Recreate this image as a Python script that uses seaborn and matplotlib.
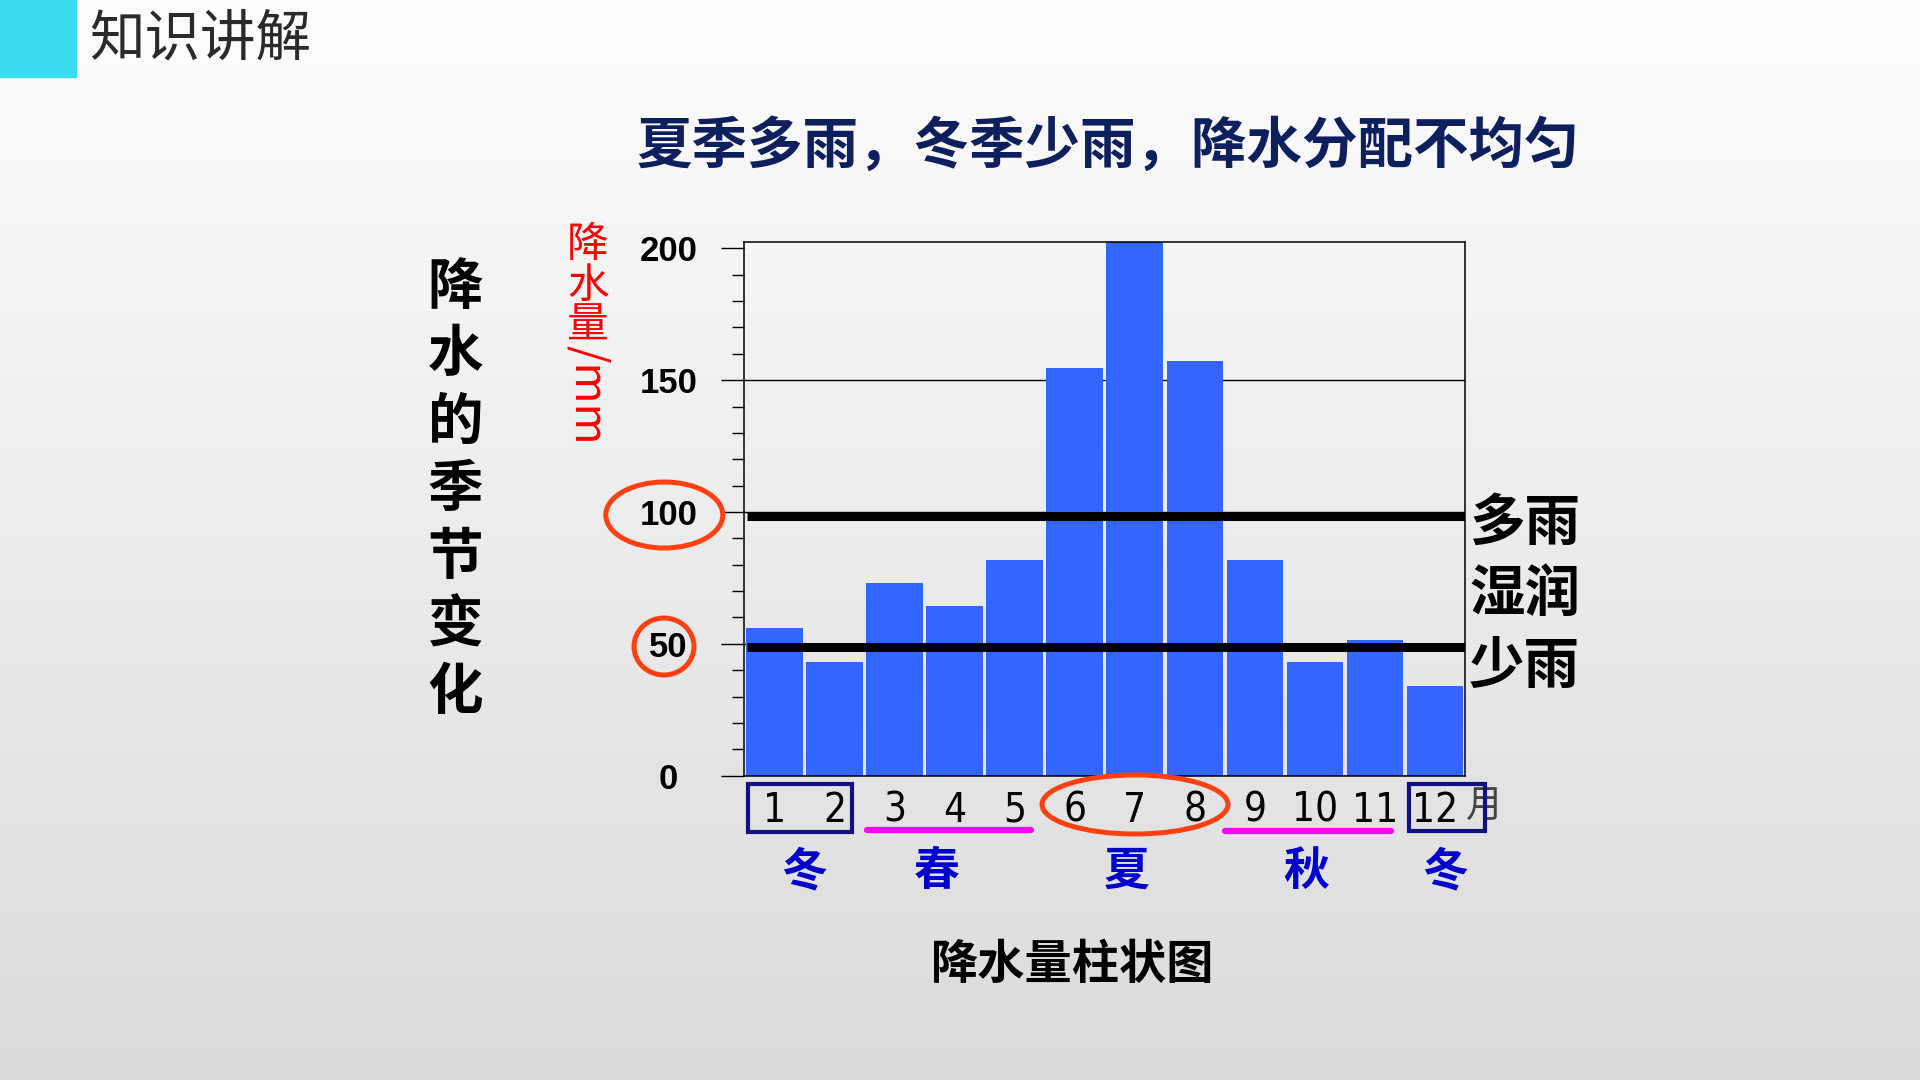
import numpy as np
import pandas as pd
import matplotlib
matplotlib.use("Agg")
import matplotlib.pyplot as plt
from matplotlib.patches import Rectangle, Ellipse
from matplotlib.lines import Line2D
from matplotlib.ticker import MultipleLocator
from matplotlib.transforms import Affine2D
import seaborn as sns

# ---------------- data ----------------
MONTHS = ["1", "2", "3", "4", "5", "6", "7", "8", "9", "10", "11", "12"]
RAIN = [56, 43, 73, 64.5, 81.7, 154.7, 203, 157.4, 81.7, 43, 51.3, 34.2]
Y_TICKS = [0, 50, 100, 150, 200]
HEAVY_LINE = 98.5   # "多雨" threshold line as drawn
LIGHT_LINE = 48.7   # "少雨" threshold line as drawn
SEASONS = ["冬", "春", "夏", "秋", "冬"]
SIDE_LABELS = ["多雨", "湿润", "少雨"]
TITLE = "夏季多雨，冬季少雨，降水分配不均匀"
HEADER = "知识讲解"
LEFT_TITLE = "降水的季节变化"
CAPTION = "降水量柱状图"

# ---------------- styling ----------------
sns.set_style("ticks")
CJK = ["Noto Sans CJK SC", "DejaVu Sans"]
plt.rcParams["font.family"] = CJK
plt.rcParams["axes.unicode_minus"] = False

W, H = 1920, 1080
fig = plt.figure(figsize=(W / 100, H / 100), dpi=100)
# pixel transform with top-left origin
T = Affine2D().scale(1 / W, -1 / H).translate(0, 1) + fig.transFigure

# background gradient
bg = fig.add_axes([0, 0, 1, 1], zorder=-10)
grad = np.linspace(252, 218, 256)[:, None] / 255.0
bg.imshow(np.repeat(grad, 2, axis=1), aspect="auto", cmap="gray", vmin=0, vmax=1,
          extent=[0, 1, 0, 1], interpolation="bilinear")
bg.axis("off")

# header
fig.patches.append(Rectangle((0, 0), 76, 77, transform=T, color="#3ADDF0", zorder=1))
fig.text(89 / W, 1 - 40 / H, HEADER, fontsize=40, color="#2A2A2A", ha="left", va="center",
         family=CJK)

# title
fig.text(1108 / W, 1 - 147 / H, TITLE, fontsize=40, color="#0E1F5E", fontweight="bold",
         ha="center", va="center", family=CJK)

# ---------------- chart ----------------
ax = fig.add_axes([744.3 / W, 1 - 775.7 / H, (1465 - 744.3) / W, (775.7 - 242.3) / H])
ax.patch.set_alpha(0)
df = pd.DataFrame({"month": MONTHS, "rain": RAIN})
sns.barplot(data=df, x="month", y="rain", color="#3366FF", saturation=1, width=0.94,
            linewidth=0, ax=ax, zorder=2)
ax.set_xlim(-0.5, 11.5)
ax.set_ylim(0, 202.3)
ax.set_xlabel("")
ax.set_ylabel("")
ax.set_yticks(Y_TICKS)
ax.set_yticklabels([str(v) for v in Y_TICKS])
ax.yaxis.set_minor_locator(MultipleLocator(10))
ax.set_axisbelow(True)
ax.grid(axis="y", which="major", color="black", linewidth=1.0)
ax.yaxis.get_gridlines()[-1].set_visible(False)
for s in ax.spines.values():
    s.set_visible(True)
    s.set_color("black")
    s.set_linewidth(1.1)
ax.tick_params(axis="y", which="major", direction="out", length=16.5, width=1.0,
               pad=38, labelsize=25, colors="black")
ax.tick_params(axis="y", which="minor", direction="out", length=8.5, width=1.0, colors="black")
ax.tick_params(axis="x", which="both", length=0, pad=11, labelsize=29, labelcolor="black")
for t in ax.get_yticklabels():
    t.set_fontweight("bold")
    t.set_ha("center")
    t.set_family(["Liberation Sans", "DejaVu Sans"])
for t in ax.get_xticklabels():
    t.set_family(["Liberation Sans Narrow", "DejaVu Sans"])
    t.set_fontstretch("condensed")
    t.set_color("black")

# threshold lines
for yv in (HEAVY_LINE, LIGHT_LINE):
    ax.axhline(yv, xmin=0.004, xmax=1, color="black", linewidth=6.5, zorder=4,
               solid_capstyle="butt")

# "月" after 12
fig.text(1485 / W, 1 - 807 / H, "月", fontsize=27, color="#444444", ha="center",
         va="center", family=CJK, zorder=3)

# navy boxes (winter)
for (x0, y0, x1, y1) in [(748, 783.7, 851.5, 832), (1409, 784, 1484.5, 830.5)]:
    fig.patches.append(Rectangle((x0, y0), x1 - x0, y1 - y0, transform=T, fill=False,
                                 edgecolor="#101080", linewidth=3, zorder=5))
# magenta underlines (spring, autumn)
for (x0, x1, yy) in [(867, 1031, 830), (1224.5, 1391, 831)]:
    fig.lines.append(Line2D([x0, x1], [yy, yy], transform=T, color="#FF00FF",
                            linewidth=4.5, zorder=5))
# red ellipses
for (cx, cy, ew, eh) in [(1135, 804.5, 186, 59), (664.3, 515, 117, 66), (664, 646.5, 60, 57)]:
    fig.patches.append(Ellipse((cx, cy), ew, eh, transform=T, fill=False,
                               edgecolor="#FF4010", linewidth=3.6, zorder=5))

# season labels
for lab, xp in zip(SEASONS, [804.5, 937, 1126.5, 1306.5, 1445]):
    fig.text(xp / W, 1 - 872 / H, lab, fontsize=33, color="#0000CC", fontweight="bold",
             ha="center", va="center", family=CJK)

# caption
fig.text(1072.5 / W, 1 - 965 / H, CAPTION, fontsize=34, color="black", fontweight="bold",
         ha="center", va="center", family=CJK)

# side labels
for lab, yp in zip(SIDE_LABELS, [524, 595, 667]):
    fig.text(1469 / W, 1 - yp / H, lab, fontsize=40, color="black", fontweight="bold",
             ha="left", va="center", family=CJK)

# left vertical title
for i, ch in enumerate(LEFT_TITLE):
    fig.text(455.5 / W, 1 - (288 + i * 67.5) / H, ch, fontsize=40, color="black",
             fontweight="bold", ha="center", va="center", family=CJK)

# red y-axis unit label
for ch, yp in zip("降水量", [245, 286, 326]):
    fig.text(588 / W, 1 - yp / H, ch, fontsize=30, color="#FF0000", ha="center",
             va="center", family=CJK)
fig.text(588 / W, 1 - 395 / H, "/mm", fontsize=32, color="#FF0000", ha="center",
         va="center", rotation=-90, family=CJK)

fig.savefig("out.png", dpi=100)
